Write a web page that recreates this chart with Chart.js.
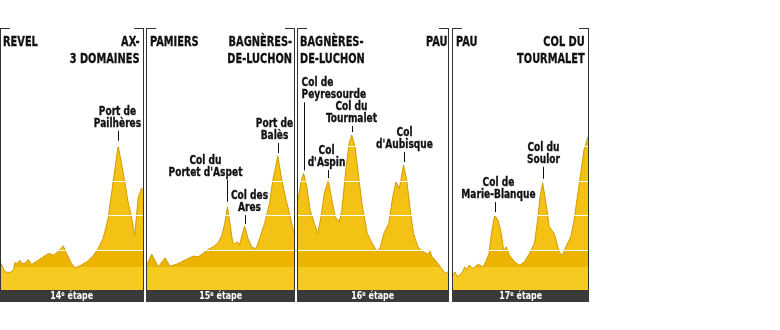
<!DOCTYPE html>
<html>
<head>
<meta charset="utf-8">
<script src="https://cdn.jsdelivr.net/npm/chart.js@4"></script>
<style>
  body { margin: 0; background: #fff; width: 780px; height: 330px; position: relative; overflow: hidden; }
  .panel { position: absolute; top: 28px; height: 274px; border-left: 1px solid #333; border-right: 1px solid #333; box-sizing: border-box; }
  .panel::before, .panel::after { content: ''; position: absolute; top: 0; width: 9px; height: 1px; background: #333; }
  .panel::before { left: 0; }
  .panel::after { right: 0; }
  .panel canvas { position: absolute; left: 0; top: 0; }
  .bar { position: absolute; left: -1px; right: -1px; bottom: 0; height: 12px; background: #3a3a3a; color: #fff;
         font: bold 11px 'Liberation Sans Narrow', 'DejaVu Sans Condensed', sans-serif; text-align: center; line-height: 12px; }
  .bar span { display: inline-block; transform: scaleX(0.8); }
  .bar sup { font-size: 7px; vertical-align: 3px; line-height: 0; }
  .city { position: absolute; font: bold 14px 'Liberation Sans Narrow', 'DejaVu Sans Condensed', sans-serif; line-height: 17px; color: #111;
          white-space: nowrap; transform: scaleX(0.78); transform-origin: left top; -webkit-text-stroke: 0.3px #111; }
  .city.r { text-align: right; transform-origin: right top; }
</style>
</head>
<body>
<div class="panel" id="p14" style="left:0px;width:144px"><canvas id="c14" width="142" height="262"></canvas><div class="bar"><span>14<sup>e</sup> étape</span></div></div>
<div class="panel" id="p15" style="left:146px;width:149px"><canvas id="c15" width="147" height="262"></canvas><div class="bar"><span>15<sup>e</sup> étape</span></div></div>
<div class="panel" id="p16" style="left:297px;width:152px"><canvas id="c16" width="150" height="262"></canvas><div class="bar"><span>16<sup>e</sup> étape</span></div></div>
<div class="panel" id="p17" style="left:452px;width:137px"><canvas id="c17" width="135" height="262"></canvas><div class="bar"><span>17<sup>e</sup> étape</span></div></div>

<div class="city" style="left:3px;top:33px">REVEL</div>
<div class="city r" style="right:641px;top:33px">AX-<br>3 DOMAINES</div>
<div class="city" style="left:150px;top:33px">PAMIERS</div>
<div class="city r" style="right:488px;top:33px">BAGNÈRES-<br>DE-LUCHON</div>
<div class="city" style="left:300px;top:33px">BAGNÈRES-<br>DE-LUCHON</div>
<div class="city r" style="right:333px;top:33px">PAU</div>
<div class="city" style="left:456px;top:33px">PAU</div>
<div class="city r" style="right:195px;top:33px">COL DU<br>TOURMALET</div>

<script>
// stage distances (km) and profiles: km along the route / altitude (m)
const dist14 = 184.5;
const km14  = [0, 5.2, 11.7, 16, 18.2, 21.2, 24.6, 26.8, 31.1, 35.4, 39.8, 46.3, 52.8, 59.3, 63.6, 67.9, 74.3, 80.8, 85.3, 91.7, 96, 102.5, 111.2, 119.7, 126.2, 132.7, 139.2, 145.7, 152.2, 158.6, 165.1, 169.5, 173.8, 178.1, 182.5, 184.5];
const alt14 = [306, 183, 175, 208, 320, 306, 354, 306, 310, 364, 291, 339, 387, 437, 451, 426, 475, 562, 451, 306, 242, 271, 329, 416, 524, 670, 961, 1493, 2017, 1639, 1202, 984, 718, 1252, 1397, 1387];

const dist15 = 187.5;
const km15  = [0, 6, 14.4, 22.9, 29.2, 37.7, 44.1, 52.5, 58.9, 65.2, 71.6, 77.9, 84.3, 90.6, 95.7, 99.1, 102.6, 105.9, 109.3, 112.7, 115.3, 117.8, 124.5, 128.8, 133.8, 139.4, 143.6, 150, 156.3, 160.5, 166.9, 172, 177.5, 181.8, 187.5];
const alt15 = [295, 441, 256, 387, 266, 295, 329, 378, 412, 402, 451, 509, 547, 606, 718, 888, 1130, 888, 606, 597, 620, 572, 849, 670, 539, 524, 670, 888, 1179, 1518, 1868, 1518, 1227, 1033, 742];

const dist16 = 199.5;
const km16  = [0, 4, 7.4, 11.7, 16.1, 21.8, 26.2, 30.6, 35, 40.2, 45.1, 49.5, 54.8, 58.3, 63.6, 68, 71.5, 75.9, 81.2, 85.6, 92.2, 98.8, 105.4, 109.7, 114.1, 120.7, 126, 130.4, 134.8, 140.4, 144.9, 149.3, 153.6, 159.4, 166.8, 173.4, 175.6, 177.9, 184.4, 191, 195.4, 199.5];
const alt16 = [1227, 1493, 1616, 1421, 1081, 888, 742, 984, 1325, 1518, 1227, 984, 911, 1081, 1664, 2052, 2173, 2003, 1518, 1130, 742, 597, 475, 547, 742, 888, 1275, 1493, 1397, 1737, 1493, 1081, 742, 547, 475, 441, 485, 412, 329, 233, 160, 183];

const dist17 = 174;
const km17  = [0, 2.6, 5.5, 11.1, 15.3, 17.5, 20.8, 26, 32.4, 38.8, 43.1, 46.4, 49.5, 53.7, 58, 62.3, 65.2, 68.7, 72.9, 79.3, 85.7, 92.1, 98.5, 104.9, 109.1, 112.2, 115.5, 119.9, 124.1, 130.5, 136.9, 141.1, 145.4, 151.8, 156.1, 160.3, 164.6, 168.8, 174];
const alt17 = [135, 183, 111, 160, 256, 208, 281, 233, 295, 256, 354, 451, 742, 1009, 936, 742, 499, 547, 426, 329, 281, 329, 451, 597, 936, 1275, 1479, 1179, 838, 742, 475, 426, 547, 693, 936, 1275, 1616, 1955, 2149];

// named climbs and the km where each summit sits
const peakNames14 = [['Port de', 'Pailhères']];
const peakKm14    = [152.2];
const peakNames15 = [['Col du', "Portet d'Aspet"], ['Col des', 'Ares'], ['Port de', 'Balès']];
const peakKm15    = [102.6, 124.5, 166.9];
const peakNames16 = [['Col de', 'Peyresourde'], ['Col', "d'Aspin"], ['Col du', 'Tourmalet'], ['Col', "d'Aubisque"]];
const peakKm16    = [7.4, 40.2, 71.5, 140.4];
const peakNames17 = [['Col de', 'Marie-Blanque'], ['Col du', 'Soulor']];
const peakKm17    = [53.7, 115.5];

// altitude lines drawn across the profile
const altLines = [500, 1000, 1500, 2000];

// label placement (pixels): text offset, gap above summit, leader length
const layout14 = [{dx: -1, gap: 5, len: 10}];
const layout15 = [{dx: -22, gap: 5, len: 22}, {dx: 4, gap: 2, len: 9}, {dx: -4, gap: 3, len: 10}];
const layout16 = [{dx: -3, gap: 3, len: 68, align: 'left'}, {dx: -2, gap: 2, len: 8}, {dx: -1, gap: 3, len: 6}, {dx: 0, gap: 3, len: 10}];
const layout17 = [{dx: 3, gap: 3, len: 10}, {dx: 0, gap: 4, len: 12}];

const LABEL_FONT = "bold 12px 'Liberation Sans Narrow', 'DejaVu Sans Condensed', sans-serif";
const LABEL_SQUEEZE = 0.84;

const peakLabels = {
  id: 'peakLabels',
  afterDraw(chart, args, opts) {
    const {ctx, scales: {x, y}} = chart;
    const ds = chart.data.datasets[0].data;
    ctx.save();
    ctx.font = LABEL_FONT;
    ctx.fillStyle = '#111';
    ctx.strokeStyle = '#111';
    opts.km.forEach((k, i) => {
      // summit = data point closest to that km
      let p = ds[0];
      ds.forEach(d => { if (Math.abs(d.x - k) < Math.abs(p.x - k)) p = d; });
      const lay = opts.layout[i];
      const px = Math.round(x.getPixelForValue(p.x)) + 0.5;
      const py = y.getPixelForValue(p.y);
      const bottom = py - lay.gap, top = bottom - lay.len;
      ctx.lineWidth = 1;
      ctx.beginPath();
      ctx.moveTo(px, bottom);
      ctx.lineTo(px, top);
      ctx.stroke();
      ctx.textAlign = lay.align || 'center';
      const lines = opts.names[i];
      lines.forEach((t, j) => {
        ctx.save();
        ctx.translate(px + lay.dx, top - 4 - (lines.length - 1 - j) * 12);
        ctx.scale(LABEL_SQUEEZE, 1);
        ctx.fillText(t, 0, 0);
        ctx.lineWidth = 0.3;
        ctx.strokeText(t, 0, 0);
        ctx.restore();
      });
    });
    ctx.restore();
  }
};

function bandFill(context) {
  const chart = context.chart;
  const {chartArea, scales} = chart;
  if (!chartArea) return '#F4C214';
  const h = chartArea.bottom - chartArea.top;
  const f500 = (scales.y.getPixelForValue(500) - chartArea.top) / h;
  const f250 = (scales.y.getPixelForValue(250) - chartArea.top) / h;
  const g = chart.ctx.createLinearGradient(0, chartArea.top, 0, chartArea.bottom);
  g.addColorStop(0, '#F4C214');
  g.addColorStop(f500, '#F4C214');
  g.addColorStop(f500, '#ECB300');
  g.addColorStop(f250, '#ECB300');
  g.addColorStop(f250, '#F7CA22');
  g.addColorStop(1, '#F7CA22');
  return g;
}

const panels = [
  {id: 'c14', km: km14, alt: alt14, dist: dist14, names: peakNames14, peaks: peakKm14, layout: layout14},
  {id: 'c15', km: km15, alt: alt15, dist: dist15, names: peakNames15, peaks: peakKm15, layout: layout15},
  {id: 'c16', km: km16, alt: alt16, dist: dist16, names: peakNames16, peaks: peakKm16, layout: layout16},
  {id: 'c17', km: km17, alt: alt17, dist: dist17, names: peakNames17, peaks: peakKm17, layout: layout17}
];

panels.forEach(pn => {
  new Chart(document.getElementById(pn.id), {
    type: 'line',
    data: {
      datasets: [{
        data: pn.km.map((k, i) => ({x: k, y: pn.alt[i]})),
        fill: 'start',
        backgroundColor: bandFill,
        borderColor: '#D49A00',
        borderWidth: 1,
        pointRadius: 0,
        tension: 0
      }]
    },
    options: {
      responsive: false,
      animation: false,
      devicePixelRatio: 1,
      layout: {padding: 0},
      plugins: {
        legend: {display: false},
        tooltip: {enabled: false},
        peakLabels: {names: pn.names, km: pn.peaks, layout: pn.layout}
      },
      scales: {
        x: {type: 'linear', min: 0, max: pn.dist, display: false},
        y: {
          min: -80, max: 3730,
          afterBuildTicks: axis => { axis.ticks = altLines.map(v => ({value: v})); },
          ticks: {display: false},
          border: {display: false},
          grid: {color: '#fff', lineWidth: 1, drawTicks: false, z: 1}
        }
      }
    },
    plugins: [peakLabels]
  });
});
</script>
</body>
</html>
